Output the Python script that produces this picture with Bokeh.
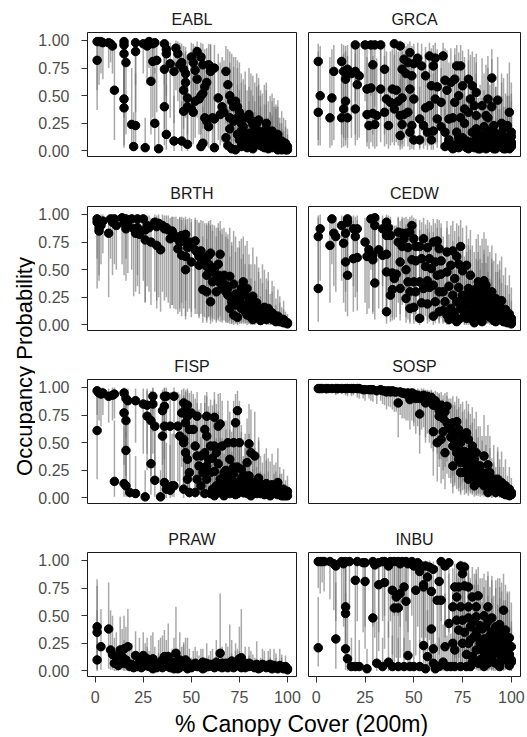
import math
from bokeh.plotting import figure
from bokeh.layouts import row, column
from bokeh.models import ColumnDataSource, Range1d, FixedTicker, NumeralTickFormatter
from bokeh.core.properties import value
from bokeh.embed import file_html
from bokeh.resources import INLINE

# ---------------- data ----------------
species = ["EABL", "GRCA", "BRTH", "CEDW", "FISP", "SOSP", "PRAW", "INBU"]
x_ticks = [0, 25, 50, 75, 100]
x_tick_labels = ["0", "25", "50", "75", "100"]
y_ticks = [0, 0.25, 0.5, 0.75, 1.0]
y_tick_labels = ["0.00", "0.25", "0.50", "0.75", "1.00"]
x_title = "% Canopy Cover (200m)"
y_title = "Occupancy Probability"

eabl_x = [1,2,3,4,1,7,8,9,10,15, 15,15,16,15,15,19,21,20,21,21, 26,25,27,28,30,31,29,30,32,31,
          33,36,37,37,36,36,37,39,41,41, 45,42,43,44,45,46,47,47,46,48, 50,51,52,53,48,46,48,50,51,52,
          54,55,56,57,58,53,55,56,59,60, 55,56,57,58,59,61,62,60,62,62, 65,68,69,70,71,72,70,72,70,68,
          69,71,73,74,75,74,76,74,75,76, 73,80,81,82,83,84,85,86,80,82, 88,87,89,90,78,79,91,92,93,94,
          95,96,97,98,99,100,92,95,
          77,78,79,81,83,84,85,86,87,88, 89,90,91,92,93,94,95,96,97,98,
          99,100,76,78,80,83,86,89,92,95, 97,99,82,85,88,91,94,64,66,67]
eabl_y = [.99,.99,.99,.98,.82,.98,.97,.95,.55,.99, .96,.88,.80,.47,.39,.24,.23,.04,.98,.90,
          .03,.97,.95,.99,.97,.98,.63,.81,.82,.25, .02,.97,.92,.88,.74,.40,.15,.79,.72,.09,
          .09,.93,.88,.78,.80,.74,.70,.62,.55,.48, .85,.80,.73,.65,.06,.36,.40,.38,.35,.45,
          .47,.50,.52,.58,.62,.90,.85,.78,.78,.72, .04,.07,.30,.27,.22,.30,.29,.76,.75,.03,
          .33,.72,.60,.50,.45,.40,.30,.27,.20,.12, .05,.02,.45,.40,.35,.30,.25,.15,.10,.04,
          .01,.33,.28,.24,.20,.15,.10,.05,.08,.02, .18,.12,.06,.02,.15,.10,.15,.10,.07,.05,
          .03,.02,.01,.04,.02,.01,.03,.08,
          .22,.05,.03,.12,.08,.25,.18,.14,.04,.08, .25,.10,.05,.18,.13,.11,.15,.06,.09,.02,
          .07,.04,.18,.30,.16,.05,.12,.20,.06,.01, .05,.01,.15,.28,.03,.08,.12,.48,.40,.35]
eabl_lo = [.55,.60,.70,.65,.37,.75,.80,.70,.10,.50, .45,.30,.15,.05,.03,.02,.02,0,.60,.35,
           0,.70,.60,.75,.65,.70,.15,.30,.35,.02, 0,.60,.50,.40,.20,.05,.01,.30,.25,0,
           0,.55,.45,.35,.40,.40,.35,.30,.20,.15, .50,.45,.35,.30,0,.08,.10,.08,.06,.12,
           .15,.15,.20,.20,.25,.55,.45,.35,.30,.25, 0,0,.05,.04,.03,.05,.05,.30,.30,0,
           .05,.25,.15,.10,.08,.06,.04,.03,.02,.01, 0,0,.10,.08,.06,.05,.04,.02,.01,0,
           0,.05,.04,.03,.02,.01,.01,0,0,0, .02,.01,0,0,.02,.01,.01,.01,0,0,
           0,0,0,0,0,0,0,0,
           .02,0,0,.01,0,.03,.02,.01,0,0, .02,0,0,.01,.01,0,.01,0,0,0,
           0,0,.02,.04,.01,0,.01,.02,0,0, 0,0,.01,.03,0,0,.01,.10,.08,.06]
eabl_hi = [1,1,1,1,.98,1,1,1,.92,1, 1,.99,.98,.90,.85,.75,.70,.35,1,1,
           .30,1,1,1,1,1,.97,.99,.99,.75, .25,1,1,.99,.98,.90,.60,.98,.97,.50,
           .45,1,.99,.98,.97,.95,.94,.90,.88,.85, .98,.97,.95,.92,.35,.80,.82,.80,.78,.85,
           .86,.88,.88,.92,.93,.99,.98,.97,.97,.96, .30,.40,.75,.72,.70,.78,.75,.97,.96,.30,
           .80,.95,.92,.90,.88,.85,.80,.76,.70,.55, .40,.30,.85,.82,.80,.75,.70,.60,.55,.40,
           .25,.75,.70,.68,.62,.58,.50,.40,.45,.30, .60,.52,.42,.30,.60,.55,.50,.45,.40,.38,
           .30,.25,.20,.30,.22,.15,.30,.40,
           .65,.38,.32,.55,.45,.70,.60,.55,.30,.42, .62,.45,.35,.52,.48,.42,.46,.30,.36,.18,
           .28,.20,.62,.72,.58,.35,.50,.55,.32,.12, .25,.10,.50,.66,.25,.35,.40,.88,.85,.82]

grca_x = [1,2,1,7,8,9,13,14,15,16, 14,13,16,15,18,20,21,22,20,20, 25,28,29,26,28,26,29,27,30,30,
          33,33,31,35,36,35,37,39,41,38, 42,40,43,40,43,45,44,46,44,45, 44,43,48,47,50,49,48,50,47,49,
          48,50,52,54,56,56,53,55,57,53, 58,61,60,59,62,61,58,62,60,59, 65,66,69,67,64,68,66,68,69,72,
          74,71,75,73,71,76,74,72,75,71, 78,80,82,79,81,78,82,80,79,83, 77,81,90,88,93,85,90,87,86,91,
          89,92,86,90,94,88,99,98,96,100, 95,97,99,96,98,100,93,84,87,92, 95,97,100,76,73,
          66,68,70,72,73,75,77,78,80,82, 83,85,86,87,89,90,91,93,94,96,
          97,98,99,100,84,88,92,95,98,100, 64,70,76,82,88]
grca_y = [.81,.50,.35,.30,.48,.72,.81,.72,.65,.74, .38,.30,.30,.45,.70,.72,.60,.68,.38,.96,
          .96,.96,.78,.56,.57,.33,.34,.23,.24,.96, .96,.56,.32,.74,.47,.35,.23,.56,.55,.44,
          .45,.38,.32,.97,.95,.83,.74,.70,.48,.33, .24,.14,.89,.80,.79,.68,.56,.47,.35,.23,
          .17,.10,.84,.77,.68,.39,.29,.23,.17,.10, .86,.84,.77,.59,.58,.47,.41,.29,.18,.10,
          .86,.64,.62,.55,.44,.29,.17,.08,.05,.77, .77,.65,.59,.50,.44,.38,.30,.17,.08,.03,
          .65,.59,.53,.47,.41,.35,.32,.17,.08,.07, .03,.03,.66,.47,.46,.41,.40,.32,.22,.23,
          .14,.13,.05,.04,.04,.03,.35,.23,.20,.17, .16,.10,.10,.05,.04,.04,.07,.02,.08,.02,
          .09,.02,.08,.06,.12,
          .04,.10,.02,.06,.03,.12,.09,.02,.05,.11, .02,.08,.12,.02,.06,.10,.02,.05,.11,.02,
          .07,.12,.02,.06,.15,.18,.16,.25,.12,.13, .22,.30,.25,.20,.30]
grca_lo = [.10,.05,.05,.03,.05,.10,.15,.12,.10,.12, .04,.03,.03,.05,.12,.15,.10,.12,.05,.45,
           .45,.50,.15,.08,.08,.04,.04,.02,.02,.40, .45,.08,.04,.15,.06,.04,.02,.08,.08,.05,
           .05,.05,.04,.50,.45,.20,.15,.12,.06,.04, .02,.01,.30,.20,.20,.12,.08,.06,.04,.02,
           .01,.01,.25,.18,.12,.05,.03,.02,.01,.01, .25,.25,.18,.08,.08,.06,.05,.03,.01,.01,
           .25,.10,.10,.08,.05,.03,.01,0,0,.18, .18,.10,.08,.06,.05,.04,.03,.01,0,0,
           .10,.08,.06,.05,.04,.03,.03,.01,0,0, 0,0,.12,.05,.05,.04,.04,.03,.02,.02,
           .01,.01,0,0,0,0,.03,.02,.02,.01, .01,.01,.01,0,0,0,0,0,0,0,
           0,0,0,0,.01,
           0,0,0,0,0,.01,0,0,0,.01, 0,0,.01,0,0,.01,0,0,.01,0,
           0,.01,0,0,.01,.01,.01,.02,.01,.01, .02,.03,.02,.02,.03]
grca_hi = [.97,.95,.90,.85,.92,.96,.97,.96,.95,.96, .88,.85,.86,.90,.95,.95,.93,.94,.88,1,
           1,1,.97,.93,.93,.85,.86,.78,.78,1, 1,.92,.84,.96,.90,.86,.76,.92,.92,.90,
           .90,.87,.84,1,1,.98,.96,.95,.90,.84, .78,.65,.99,.97,.97,.95,.92,.90,.85,.76,
           .70,.58,.98,.97,.94,.87,.82,.76,.70,.58, .98,.98,.96,.93,.92,.89,.87,.80,.70,.58,
           .98,.93,.93,.91,.88,.80,.68,.52,.45,.96, .96,.93,.91,.89,.87,.85,.80,.66,.50,.38,
           .92,.90,.88,.87,.85,.82,.80,.65,.50,.48, .36,.35,.92,.86,.85,.84,.83,.78,.70,.70,
           .60,.58,.42,.40,.38,.35,.80,.70,.66,.62, .62,.52,.50,.40,.36,.35,.46,.32,.48,.30,
           .50,.28,.45,.46,.58,
           .38,.55,.30,.45,.35,.58,.50,.28,.42,.55, .28,.48,.55,.26,.42,.50,.25,.38,.50,.24,
           .40,.50,.22,.36,.60,.62,.58,.70,.50,.52, .75,.80,.74,.70,.75]

brth_x = [1,1,2,2,3,4,7,8,10,11, 9,14,16,15,17,16,19,22,20,22, 21,23,25,26,28,26,29,27,31,33,
          32,32,34,35,37,36,38,40,41,39, 42,44,46,45,47,43,48,45,47,47, 50,49,52,53,55,56,54,58,60,58,
          56,58,59,60,65,62,64,61,65,63, 60,66,67,70,68,72,69,73,75,71, 74,70,76,72,74,76,77,79,78,82,
          80,84,81,85,79,83,87,82,86,88, 90,89,92,93,95,91,96,98,94,97, 99,100,100,
          50,52,54,57,59,61,63,64,66,68, 69,71,73,75,77,78,80,81,83,85,
          86,87,89,90,92,94,96,98, 40,44]
brth_y = [.96,.93,.88,.85,.90,.94,.83,.96,.96,.90, .93,.97,.96,.92,.90,.87,.96,.96,.87,.88,
          .83,.82,.96,.86,.88,.77,.75,.90,.93,.92, .89,.72,.68,.90,.88,.87,.86,.84,.81,.78,
          .79,.75,.76,.81,.82,.69,.70,.63,.62,.50, .57,.75,.76,.66,.67,.60,.54,.53,.48,.45,
          .32,.30,.63,.65,.64,.51,.45,.39,.38,.30, .21,.33,.45,.44,.36,.37,.27,.28,.26,.21,
          .20,.15,.15,.09,.07,.33,.39,.33,.27,.26, .21,.20,.15,.14,.09,.09,.08,.05,.04,.16,
          .15,.12,.11,.09,.08,.06,.06,.05,.03,.03, .02,.02,.01,
          .72,.68,.62,.57,.55,.52,.42,.55,.41,.30, .33,.25,.18,.22,.18,.12,.12,.07,.12,.10,
          .08,.14,.05,.08,.05,.04,.03,.02, .85,.80]
brth_lo = [.60,.33,.45,.40,.55,.65,.25,.60,.55,.50, .45,.55,.60,.45,.47,.40,.50,.45,.26,.35,
           .30,.28,.40,.21,.30,.20,.18,.35,.30,.25, .22,.15,.12,.30,.25,.22,.20,.18,.15,.15,
           .14,.12,.15,.20,.22,.10,.12,.08,.08,.05, .07,.15,.15,.10,.10,.08,.06,.06,.05,.04,
           .02,.02,.08,.08,.08,.05,.04,.03,.03,.02, .01,.02,.04,.04,.03,.03,.02,.02,.02,.01,
           .01,.01,.01,0,0,.02,.03,.02,.02,.02, .01,.01,.01,.01,0,0,0,0,0,.01,
           .01,.01,0,0,0,0,0,0,0,0, 0,0,0,
           .12,.10,.08,.07,.07,.06,.04,.06,.04,.02, .02,.01,.01,.01,.01,.01,.01,0,.01,0,
           0,.01,0,0,0,0,0,0, .18,.15]
brth_hi = [1,1,.99,.99,1,1,.98,1,1,.99, 1,1,1,1,.99,.99,1,1,.99,.99,
           .98,.98,1,.99,.99,.98,.97,.99,1,1, .99,.97,.96,1,.99,.99,.99,.98,.98,.97,
           .98,.97,.97,.98,.98,.96,.96,.95,.95,.90, .93,.97,.97,.95,.95,.94,.92,.92,.90,.90,
           .80,.78,.94,.95,.94,.90,.88,.85,.85,.80, .70,.82,.88,.88,.84,.85,.78,.80,.76,.72,
           .70,.62,.60,.45,.40,.78,.80,.76,.72,.70, .64,.62,.55,.52,.42,.40,.38,.30,.26,.50,
           .48,.42,.40,.35,.32,.28,.26,.22,.18,.16, .12,.10,.06,
           .96,.95,.93,.92,.92,.91,.88,.92,.87,.80, .82,.75,.66,.70,.64,.55,.55,.42,.55,.48,
           .42,.55,.32,.40,.30,.24,.20,.14, .98,.98]

cedw_x = [1,1,2,7,8,9,10,13,16,15, 14,15,16,16,19,21,20,19,21,25, 27,29,26,29,28,30,30,30,36,34,
          37,36,38,34,36,32,36,36,38,39, 41,40,39,43,42,44,42,44,43,49, 46,48,45,50,47,51,49,51,46,47,
          50,48,51,46,48,50,55,53,57,54, 58,56,53,57,55,58,54,57,53,60, 62,63,61,64,59,62,64,60,63,65,
          61,63,65,60,74,67,70,72,69,73, 67,75,71,68,73,70,75,66,72,69, 74,67,71,76,68,73,77,79,83,86,
          78,82,85,80,84,77,81,86,79,83, 85,78,82,86,80,84,87,88,90,89, 92,91,94,88,93,96,90,95,98,92,
          97,99,100,100,
          70,72,74,76,77,79,80,81,82,83, 84,85,86,87,88,89,90,91,92,93,
          94,95,96,97,98,99,100,78,84,90, 94,97]
cedw_y = [.33,.80,.87,.72,.96,.83,.80,.90,.93,.83, .74,.57,.45,.96,.87,.87,.80,.60,.61,.75,
          .68,.63,.62,.59,.96,.97,.90,.38,.93,.87, .88,.81,.81,.63,.64,.68,.48,.12,.27,.47,
          .46,.42,.32,.33,.84,.83,.75,.71,.57,.90, .83,.84,.78,.78,.70,.71,.59,.58,.50,.39,
          .39,.30,.30,.24,.15,.16,.78,.71,.70,.60, .60,.53,.39,.40,.33,.34,.20,.19,.06,.75,
          .76,.69,.57,.58,.51,.45,.46,.36,.30,.30, .21,.12,.13,.08,.71,.66,.67,.62,.54,.55,
          .48,.49,.42,.35,.34,.27,.27,.21,.21,.15, .15,.09,.09,.10,.05,.05,.54,.45,.39,.40,
          .33,.33,.34,.27,.28,.21,.21,.20,.15,.15, .14,.09,.09,.08,.05,.05,.36,.30,.30,.24,
          .24,.18,.18,.12,.12,.11,.08,.07,.07,.03, .03,.04,.03,.06,
          .12,.03,.22,.18,.06,.24,.10,.02,.16,.22, .11,.03,.26,.14,.20,.07,.15,.04,.10,.15,
          .08,.22,.03,.14,.02,.10,.01,.28,.18,.20, .13,.07]
cedw_lo = [.03,.30,.40,.20,.55,.35,.30,.40,.45,.30, .20,.12,.08,.50,.35,.30,.25,.12,.13,.20,
           .15,.12,.10,.10,.50,.55,.35,.05,.45,.35, .35,.25,.25,.12,.12,.15,.07,.01,.03,.07,
           .07,.05,.04,.04,.30,.30,.20,.18,.10,.40, .30,.30,.22,.22,.15,.16,.10,.10,.07,.05,
           .05,.03,.03,.02,.01,.01,.22,.15,.15,.10, .10,.08,.04,.05,.03,.03,.02,.01,0,.20,
           .20,.15,.10,.10,.07,.06,.06,.04,.03,.03, .02,.01,.01,0,.18,.14,.14,.12,.09,.09,
           .07,.07,.05,.04,.04,.02,.02,.02,.02,.01, .01,0,0,0,0,0,.08,.06,.04,.05,
           .03,.03,.03,.02,.02,.01,.01,.01,.01,.01, .01,0,0,0,0,0,.03,.02,.02,.02,
           .02,.01,.01,.01,.01,.01,0,0,0,0, 0,0,0,0,
           .01,0,.02,.01,0,.02,.01,0,.01,.02, .01,0,.02,.01,.02,0,.01,0,.01,.01,
           0,.02,0,.01,0,.01,0,.02,.01,.01, .01,0]
cedw_hi = [.97,.99,1,.97,1,.99,.98,.99,1,.99, .97,.95,.92,1,.99,.99,.98,.95,.95,.97,
           .96,.95,.95,.94,1,1,.99,.88,1,.99, .99,.98,.98,.95,.95,.96,.92,.70,.82,.91,
           .90,.90,.85,.86,.98,.98,.97,.96,.94,.99, .98,.98,.97,.97,.96,.96,.93,.93,.91,.87,
           .87,.82,.82,.75,.65,.66,.97,.95,.95,.93, .93,.91,.86,.87,.83,.84,.72,.70,.45,.96,
           .96,.95,.92,.92,.90,.88,.88,.84,.80,.80, .72,.58,.60,.48,.95,.94,.94,.92,.90,.90,
           .88,.88,.85,.82,.80,.76,.75,.70,.70,.62, .60,.50,.50,.52,.40,.40,.90,.86,.82,.84,
           .78,.78,.78,.72,.72,.66,.66,.64,.58,.58, .56,.46,.46,.44,.36,.36,.78,.72,.72,.66,
           .65,.58,.58,.48,.48,.45,.40,.38,.36,.26, .24,.28,.22,.34,
           .55,.30,.66,.62,.40,.68,.50,.26,.60,.66, .50,.28,.68,.56,.62,.42,.56,.30,.48,.55,
           .42,.62,.26,.52,.22,.45,.15,.72,.60,.60, .50,.36]

fisp_x = [1,1,2,3,4,7,9,10,10,15, 16,15,16,16,15,16,17,18,21,21, 26,25,27,27,29,30,29,30,31,31,
          34,36,37,36,35,36,35,36,37,39, 40,39,41,45,43,44,46,41,46,46, 48,47,48,47,49,46,47,48,49,48,
          49,50,53,51,52,53,55,54,56,53, 55,52,58,57,58,60,62,57,59,61, 58,60,62,58,61,57,60,62,64,65,
          66,63,64,67,65,68,63,66,65,67, 62,74,73,69,72,75,70,72,74,70, 69,73,71,75,70,74,80,81,83,79,
          76,78,80,82,85,77,80,84,86,79, 82,86,95,88,89,91,93,90,94,96, 97,98,99,100,
          63,65,67,69,71,73,75,76,77,78, 79,81,82,83,84,85,87,88,89,90,
          91,92,93,94,95,96,97,98,99,100, 68,72]
fisp_y = [.61,.97,.95,.94,.95,.92,.93,.94,.15,.95, .90,.77,.70,.43,.13,.11,.88,.05,.88,.04,
          .01,.85,.84,.74,.70,.92,.31,.85,.65,.16, .01,.92,.92,.83,.79,.65,.56,.14,.08,.07,
          .11,.65,.92,.77,.65,.56,.53,.11,.08,.86, .84,.80,.74,.68,.62,.50,.41,.35,.23,.17,
          .05,.77,.74,.62,.47,.38,.38,.29,.23,.17, .11,.05,.74,.62,.56,.47,.47,.41,.35,.36,
          .29,.23,.24,.17,.08,.04,.04,.73,.65,.67, .47,.41,.31,.23,.17,.17,.11,.11,.05,.05,
          .02,.79,.68,.50,.50,.50,.35,.28,.28,.20, .14,.14,.08,.09,.04,.04,.49,.41,.38,.32,
          .26,.20,.20,.14,.15,.08,.08,.08,.09,.04, .04,.04,.14,.11,.08,.08,.07,.05,.05,.05,
          .02,.02,.02,.02,
          .08,.12,.02,.10,.16,.03,.12,.18,.05,.10, .14,.02,.08,.11,.04,.18,.06,.03,.13,.09,
          .02,.12,.04,.08,.03,.07,.05,.08,.04,.06, .25,.22]
fisp_lo = [.17,.75,.70,.65,.75,.68,.70,.72,.01,.70, .55,.30,.20,.05,.01,.01,.45,0,.50,0,
           0,.40,.40,.25,.20,.60,.03,.40,.15,.01, 0,.55,.55,.35,.30,.15,.10,.01,0,0,
           .01,.15,.55,.28,.15,.10,.10,.01,0,.40, .38,.30,.25,.18,.15,.08,.05,.04,.02,.01,
           0,.25,.22,.14,.07,.05,.05,.03,.02,.01, .01,0,.22,.13,.10,.07,.07,.05,.04,.04,
           .03,.02,.02,.01,0,0,0,.20,.15,.16, .06,.05,.03,.02,.01,.01,.01,.01,0,0,
           0,.25,.17,.07,.07,.07,.03,.02,.02,.01, .01,.01,0,0,0,0,.06,.04,.04,.03,
           .02,.01,.01,.01,.01,0,0,0,0,0, 0,0,.01,0,0,0,0,0,0,0,
           0,0,0,0,
           0,.01,0,.01,.01,0,.01,.01,0,0, .01,0,0,.01,0,.01,0,0,.01,0,
           0,.01,0,0,0,0,0,0,0,0, .02,.02]
fisp_hi = [.97,1,1,1,1,.99,1,1,.70,1, .99,.98,.97,.90,.65,.60,.99,.40,.99,.38,
           .25,.99,.99,.97,.97,1,.85,.99,.96,.70, .25,1,1,.99,.98,.96,.94,.65,.50,.48,
           .58,.96,1,.98,.96,.94,.93,.58,.50,.99, .99,.98,.97,.96,.95,.92,.88,.85,.75,.65,
           .40,.97,.96,.94,.90,.86,.86,.80,.75,.66, .55,.40,.96,.93,.92,.89,.89,.86,.83,.84,
           .78,.72,.72,.64,.48,.35,.36,.96,.94,.95, .88,.85,.78,.70,.62,.62,.54,.54,.40,.40,
           .25,.97,.94,.88,.88,.88,.78,.72,.72,.62, .54,.54,.42,.44,.32,.32,.85,.80,.78,.72,
           .66,.58,.58,.50,.52,.38,.38,.36,.38,.26, .26,.24,.45,.40,.34,.33,.30,.24,.24,.22,
           .12,.12,.10,.10,
           .48,.55,.28,.50,.60,.30,.52,.60,.35,.45, .52,.22,.40,.45,.28,.55,.32,.22,.45,.36,
           .16,.40,.22,.32,.18,.28,.22,.26,.16,.20, .70,.66]

sosp_x = [1,3,5,8,10,13,16,19,21,22, 25,27,29,31,33,35,37,36,38,39, 41,43,45,47,42,48,49,50,52,54,
          55,51,53,56,53,57,59,58,61,60, 62,63,60,62,64,67,66,67,65,64, 66,69,70,72,73,71,75,74,70,72,
          75,73,70,74,77,78,80,78,82,77, 81,79,83,76,80,78,82,81,86,84, 88,85,89,87,91,84,93,86,90,88,
          92,93,95,94,97,96,99,95,98,100, 97,100,
          2,6,11,15,18,24,28,34,40,44, 46,50,56,59,63,65,68,69,71,73,
          74,76,77,79,80,82,83,85,87,89, 90,91,92,94,96,98,99]
sosp_y = [.99,.99,.99,.99,.99,.99,.99,.99,.99,.99, .98,.98,.98,.97,.98,.97,.97,.96,.96,.97,
          .96,.96,.95,.95,.86,.89,.95,.94,.93,.92, .93,.90,.90,.86,.76,.92,.91,.88,.88,.84,
          .83,.79,.60,.50,.84,.83,.78,.68,.60,.53, .41,.62,.68,.69,.62,.56,.56,.50,.47,.41,
          .40,.35,.29,.23,.59,.53,.47,.41,.41,.35, .35,.29,.29,.23,.23,.17,.17,.11,.38,.29,
          .30,.23,.23,.17,.17,.14,.14,.11,.11,.05, .05,.17,.14,.11,.11,.08,.08,.05,.05,.05,
          .03,.03,
          .99,.99,.99,.99,.99,.98,.98,.97,.96,.95, .94,.93,.90,.86,.74,.72,.64,.55,.50,.45,
          .32,.42,.30,.38,.30,.25,.20,.18,.22,.15, .08,.10,.08,.08,.04,.03,.02]
sosp_lo = [.95,.96,.94,.95,.93,.94,.92,.93,.91,.90, .88,.90,.87,.85,.88,.84,.83,.80,.82,.80,
           .78,.75,.72,.70,.55,.62,.70,.68,.65,.62, .64,.58,.57,.50,.40,.58,.55,.50,.48,.42,
           .40,.35,.20,.15,.35,.33,.28,.22,.17,.13, .08,.18,.20,.21,.17,.14,.14,.11,.10,.08,
           .07,.06,.04,.03,.15,.12,.10,.07,.07,.05, .05,.04,.04,.03,.03,.02,.02,.01,.06,.04,
           .04,.03,.03,.02,.02,.01,.01,.01,.01,0, 0,.02,.01,.01,.01,0,0,0,0,0,
           0,0,
           .96,.95,.94,.93,.92,.90,.88,.85,.78,.72, .70,.65,.55,.45,.28,.25,.18,.13,.11,.09,
           .05,.08,.04,.06,.04,.03,.02,.02,.02,.01, 0,.01,0,0,0,0,0]
sosp_hi = [1,1,1,1,1,1,1,1,1,1, 1,1,1,1,1,.99,.99,.99,.99,.99,
           .99,.99,.99,.99,.97,.98,.99,.99,.99,.99, .99,.98,.98,.97,.93,.98,.98,.97,.97,.96,
           .96,.95,.88,.84,.96,.96,.95,.92,.89,.86, .78,.90,.92,.92,.90,.87,.87,.85,.84,.80,
           .78,.74,.68,.62,.88,.85,.82,.78,.78,.72, .72,.66,.65,.58,.58,.50,.50,.40,.75,.65,
           .66,.56,.56,.48,.48,.42,.42,.36,.36,.22, .22,.46,.42,.35,.35,.28,.28,.20,.20,.18,
           .12,.12,
           1,1,1,1,1,1,1,.99,.99,.99, .99,.99,.98,.97,.94,.93,.90,.86,.84,.82,
           .72,.80,.70,.76,.68,.62,.55,.52,.56,.45, .28,.32,.28,.28,.16,.12,.10]

praw_x = [1,1,1,3,7,8,9,10,13,15, 14,15,17,18,20,21,22,25,27,30, 26,29,31,28,32,33,35,39,36,38,
          37,40,41,42,44,47,45,49,51,43, 48,52,55,60,63,54,57,59,62,65, 66,68,70,64,67,69,72,71,75,76,
          74,78,81,84,76,80,83,86,89,90, 93,96,92,95,98,100,99,34,46,56, 73,87,91,94,97,
          11,12,16,19,23,24,27,30,33,35, 38,41,44,46,48,50,53,56,58,61,
          63,66,69,71,73,75,78,80,82,85, 88,91,94,97,100]
praw_y = [.35,.40,.10,.22,.38,.19,.15,.07,.19,.20, .13,.07,.22,.04,.03,.14,.04,.14,.11,.11,
          .07,.07,.06,.04,.03,.04,.03,.03,.13,.13, .07,.06,.02,.16,.10,.10,.05,.05,.05,.02,
          .02,.07,.06,.06,.05,.04,.03,.04,.03,.16, .07,.07,.06,.04,.04,.03,.03,.09,.11,.12,
          .06,.07,.06,.06,.03,.04,.03,.03,.03,.05, .05,.05,.02,.02,.02,.02,.04,.08,.07,.08,
          .05,.06,.03,.04,.03,
          .12,.05,.10,.06,.08,.03,.05,.02,.07,.10, .04,.08,.03,.06,.08,.03,.04,.02,.07,.05,
          .08,.03,.06,.04,.08,.05,.03,.07,.04,.02, .05,.06,.03,.04,.01]
praw_lo = [.01,.02,0,.01,.02,.01,.01,0,.01,.01, .01,0,.01,0,0,.01,0,.01,.01,.01,
           0,0,0,0,0,0,0,0,.01,.01, 0,0,0,.01,.01,.01,0,0,0,0,
           0,0,0,0,0,0,0,0,0,.01, 0,0,0,0,0,0,0,0,.01,.01,
           0,0,0,0,0,0,0,0,0,0, 0,0,0,0,0,0,0,0,0,0,
           0,0,0,0,0,
           0,0,0,0,0,0,0,0,0,0, 0,0,0,0,0,0,0,0,0,0,
           0,0,0,0,0,0,0,0,0,0, 0,0,0,0,0]
praw_hi = [.77,.83,.55,.56,.80,.55,.50,.30,.49,.50, .38,.28,.56,.18,.15,.36,.18,.35,.30,.35,
           .25,.32,.22,.18,.14,.16,.12,.15,.37,.43, .28,.20,.10,.58,.35,.30,.22,.20,.18,.10,
           .10,.22,.20,.18,.15,.14,.12,.14,.12,.70, .22,.25,.42,.15,.14,.12,.12,.28,.40,.56,
           .20,.22,.18,.27,.12,.14,.12,.12,.10,.18, .20,.20,.08,.08,.08,.06,.14,.30,.26,.20,
           .18,.20,.12,.16,.12,
           .35,.20,.40,.25,.30,.14,.22,.12,.28,.32, .18,.30,.14,.24,.30,.12,.18,.10,.25,.20,
           .28,.12,.22,.16,.25,.18,.12,.22,.15,.10, .18,.20,.12,.15,.06]

inbu_x = [1,2,3,4,1,7,9,10,10,13, 15,17,14,15,15,15,16,18,20,22, 20,21,24,25,25,29,26,29,32,34,
          30,32,35,31,34,35,38,40,37,39, 41,40,37,39,42,42,44,46,43,47, 45,43,46,42,45,48,47,49,52,50,
          54,53,51,55,50,53,55,56,58,60, 57,55,59,62,59,60,57,56,61,64, 68,66,63,64,68,66,63,67,69,74,
          76,75,71,73,76,72,70,74,72,75, 73,70,75,71,71,74,77,78,80,83, 78,82,79,84,81,78,84,82,85,80,
          86,83,79,86,88,90,87,92,89,94, 88,91,94,87,93,90,95,88,92,94, 96,97,95,99,97,100,98,96,100,99,
          76,77,79,80,81,82,83,84,85,86, 87,88,89,90,91,92,93,94,95,96,
          97,98,99,100,78,82,86,90,94,98, 60,65]
inbu_y = [.99,.99,.99,.99,.21,.99,.97,.95,.29,.99, .99,.99,.97,.58,.52,.20,.11,.04,.04,.04,
          .82,.99,.98,.98,.81,.48,.02,.99,.98,.99, .96,.78,.80,.07,.04,.99,.99,.99,.95,.73,
          .67,.57,.08,.04,.04,.99,.99,.99,.97,.97, .76,.70,.63,.57,.04,.04,.14,.99,.98,.95,
          .95,.90,.73,.78,.04,.04,.23,.95,.94,.92, .85,.76,.72,.64,.38,.20,.13,.02,.02,.99,
          .98,.95,.81,.64,.43,.22,.04,.04,.04,.95, .94,.88,.76,.76,.77,.67,.58,.58,.46,.46,
          .37,.25,.25,.19,.04,.04,.04,.76,.67,.68, .58,.49,.40,.41,.31,.25,.25,.19,.19,.13,
          .13,.07,.04,.04,.58,.48,.40,.40,.32,.33, .25,.25,.24,.19,.19,.13,.13,.07,.07,.04,
          .55,.37,.29,.30,.22,.22,.16,.10,.10,.05,
          .35,.15,.28,.08,.45,.36,.30,.10,.38,.29, .12,.45,.16,.35,.08,.28,.40,.15,.36,.20,
          .12,.30,.15,.08,.48,.58,.50,.20,.42,.27, .07,.08]
inbu_lo = [.75,.70,.80,.72,.04,.65,.55,.45,.02,.60, .50,.55,.40,.10,.08,.01,0,0,0,0,
           .25,.45,.35,.40,.20,.06,0,.40,.35,.45, .30,.18,.20,0,0,.50,.45,.50,.30,.15,
           .12,.08,0,0,0,.50,.55,.45,.40,.35, .15,.12,.10,.08,0,0,.01,.50,.40,.30,
           .30,.25,.14,.18,0,0,.01,.30,.28,.25, .20,.14,.12,.08,.03,.01,0,0,0,.45,
           .35,.30,.15,.07,.03,.01,0,0,0,.25, .22,.18,.12,.12,.12,.08,.06,.06,.04,.04,
           .03,.01,.01,.01,0,0,0,.10,.07,.07, .05,.04,.03,.03,.02,.01,.01,.01,.01,0,
           0,0,0,0,.05,.04,.03,.03,.02,.02, .01,.01,.01,.01,.01,0,0,0,0,0,
           .04,.02,.02,.02,.01,.01,.01,0,0,0,
           .02,.01,.02,0,.03,.02,.02,0,.02,.02, .01,.03,.01,.02,0,.02,.03,.01,.02,.01,
           .01,.02,.01,0,.04,.05,.04,.01,.03,.02, 0,0]
inbu_hi = [1,1,1,1,.67,1,1,1,.80,1, 1,1,1,.95,.93,.70,.50,.30,.25,.28,
           .99,1,1,1,.99,.93,.20,1,1,1, 1,.98,.98,.45,.30,1,1,1,1,.98,
           .97,.95,.45,.32,.30,1,1,1,1,1, .98,.97,.96,.95,.30,.28,.60,1,1,1,
           1,.99,.97,.98,.30,.28,.72,1,1,.99, .99,.97,.97,.95,.85,.68,.55,.22,.25,1,
           1,1,.98,.95,.88,.70,.30,.32,.34,1, .99,.99,.97,.97,.97,.95,.93,.93,.88,.88,
           .84,.72,.72,.64,.30,.32,.34,.96,.94,.94, .92,.88,.84,.84,.78,.70,.70,.62,.62,.52,
           .52,.40,.30,.30,.90,.86,.82,.82,.76,.76, .68,.68,.66,.60,.60,.50,.50,.36,.36,.28,
           .88,.78,.72,.72,.64,.62,.55,.45,.45,.30,
           .82,.62,.78,.45,.88,.82,.78,.52,.84,.76, .56,.86,.62,.82,.45,.75,.84,.58,.80,.64,
           .52,.72,.55,.40,.88,.92,.88,.66,.84,.70, .40,.42]

panel_data = [
    (eabl_x, eabl_y, eabl_lo, eabl_hi),
    (grca_x, grca_y, grca_lo, grca_hi),
    (brth_x, brth_y, brth_lo, brth_hi),
    (cedw_x, cedw_y, cedw_lo, cedw_hi),
    (fisp_x, fisp_y, fisp_lo, fisp_hi),
    (sosp_x, sosp_y, sosp_lo, sosp_hi),
    (praw_x, praw_y, praw_lo, praw_hi),
    (inbu_x, inbu_y, inbu_lo, inbu_hi),
]

# ---------------- layout / style ----------------
FONT = "Liberation Sans"
X_RANGE = (-4, 104.7)
Y_RANGE = (-0.05, 1.072)
YLAB_W = 35
col_w = [267, 224]
col_border = [(50, 6), (6, 6)]
row_h = [162, 174, 173, 201]
row_border = [(32, 6), (44, 6), (43, 6), (43, 34)]
XLAB_H = 26


def style_axis(ax, ticks, labels, fmt):
    ax.ticker = FixedTicker(ticks=ticks)
    ax.formatter = NumeralTickFormatter(format=fmt)
    ax.major_label_overrides = {t: s for t, s in zip(ticks, labels)}
    ax.axis_line_color = None
    ax.major_tick_in = 0
    ax.major_tick_out = 6
    ax.minor_tick_in = 0
    ax.minor_tick_out = 0
    ax.major_tick_line_color = "#333333"
    ax.major_tick_line_width = 1
    ax.major_label_text_font = FONT
    ax.major_label_text_font_size = "16px"
    ax.major_label_text_color = "#4D4D4D"


figs = []
for i, name in enumerate(species):
    xs, ys, los, his = panel_data[i]
    if not (len(xs) == len(ys) == len(los) == len(his)):
        raise ValueError(f"{name}: {len(xs)} {len(ys)} {len(los)} {len(his)}")
    r, c = divmod(i, 2)
    p = figure(width=col_w[c], height=row_h[r],
               x_range=Range1d(*X_RANGE), y_range=Range1d(*Y_RANGE),
               output_backend="svg", toolbar_location=None, title=name,
               min_border_left=col_border[c][0], min_border_right=col_border[c][1],
               min_border_top=row_border[r][0], min_border_bottom=row_border[r][1])
    p.title.align = "center"
    p.title.text_font = FONT
    p.title.text_font_size = "16px"
    p.title.text_font_style = "normal"
    p.title.text_color = "#1A1A1A"
    p.title.standoff = 10
    p.xgrid.visible = False
    p.ygrid.visible = False
    p.outline_line_color = "#1A1A1A"
    p.outline_line_width = 1
    p.background_fill_color = "white"
    p.border_fill_color = "white"
    style_axis(p.xaxis[0], x_ticks, x_tick_labels, "0")
    style_axis(p.yaxis[0], y_ticks, y_tick_labels, "0.00")
    p.xaxis.major_label_standoff = 8
    p.yaxis.major_label_standoff = 12
    if c == 1:
        p.yaxis.visible = False
    if r < 3:
        p.xaxis.visible = False
    src = ColumnDataSource(dict(x=xs, y=ys, lo=los, hi=his))
    p.segment(x0="x", y0="lo", x1="x", y1="hi", source=src,
              line_color="#707070", line_alpha=0.6, line_width=1.5)
    p.scatter(x="x", y="y", source=src, size=8.5, fill_color="black",
              line_color="black", line_width=1)
    figs.append(p)

grid_h = sum(row_h)
total_h = grid_h + XLAB_H
ylab = figure(width=YLAB_W, height=total_h, x_range=Range1d(0, YLAB_W), y_range=Range1d(0, total_h),
              output_backend="svg", toolbar_location=None, min_border=0,
              x_axis_type=None, y_axis_type=None, outline_line_color=None)
ylab.grid.visible = False
ylab.text(x=[23.5], y=[total_h - 366], text=[y_title], angle=math.pi / 2,
          text_align="center", text_baseline="middle",
          text_font=value(FONT), text_font_size="22px", text_color="black")

grid_w = col_w[0] + col_w[1]
xlab = figure(width=grid_w, height=XLAB_H, x_range=Range1d(0, grid_w), y_range=Range1d(0, XLAB_H),
              output_backend="svg", toolbar_location=None, min_border=0,
              x_axis_type=None, y_axis_type=None, outline_line_color=None)
xlab.grid.visible = False
xlab.text(x=[301 - YLAB_W], y=[13], text=[x_title], text_align="center", text_baseline="middle",
          text_font=value(FONT), text_font_size="23px", text_color="black")

grid = column(*[row(figs[2 * k], figs[2 * k + 1]) for k in range(4)])
layout = row(ylab, column(grid, xlab))

open("out.html", "w").write(file_html(layout, INLINE))
